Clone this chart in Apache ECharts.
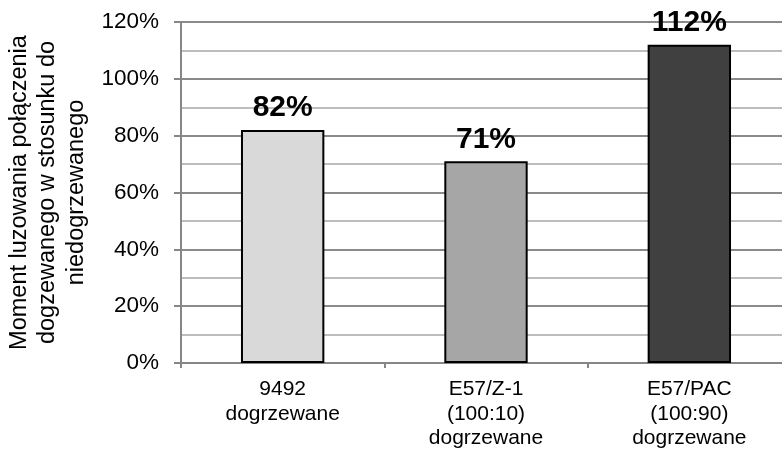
<!DOCTYPE html>
<html>
<head>
<meta charset="utf-8">
<style>
  html, body { margin: 0; padding: 0; background: #fff; }
  #chart { width: 782px; height: 450px; }
</style>
<script src="https://cdn.jsdelivr.net/npm/echarts@6/dist/echarts.min.js"></script>
</head>
<body>
<div id="chart"></div>
<script>
// Categories (x-axis) and values in percent
const categories = [
  '9492\ndogrzewane',
  'E57/Z-1\n(100:10)\ndogrzewane',
  'E57/PAC\n(100:90)\ndogrzewane'
];
const values = [82, 71, 112];
const barColors = ['#d9d9d9', '#a6a6a6', '#404040'];
const yTitle = 'Moment luzowania połączenia\ndogzewanego w stosunku do\nniedogrzewanego';

const font = '"Liberation Sans", Arial, sans-serif';
const chart = echarts.init(document.getElementById('chart'), null, { renderer: 'canvas' });

chart.setOption({
  animation: false,
  backgroundColor: '#ffffff',
  grid: {
    left: 181, right: -9, top: 22, bottom: 87,
    containLabel: false, outerBoundsMode: 'none'
  },
  xAxis: {
    type: 'category',
    data: categories,
    axisLine: { lineStyle: { color: '#868686', width: 2 } },
    axisTick: { show: true, length: 5, inside: false, lineStyle: { color: '#868686', width: 2 } },
    axisLabel: {
      color: '#000', fontFamily: font, fontSize: 21, lineHeight: 24.5, margin: 14
    }
  },
  yAxis: {
    type: 'value',
    min: 0, max: 120, interval: 20,
    name: yTitle,
    nameLocation: 'middle',
    nameRotate: 90,
    nameGap: 83,
    nameTextStyle: { color: '#000', fontFamily: font, fontSize: 23.5, lineHeight: 28.5, align: 'center' },
    axisLine: { show: true, lineStyle: { color: '#868686', width: 2 } },
    axisTick: { show: true, length: 7, lineStyle: { color: '#868686', width: 2 } },
    axisLabel: {
      color: '#000', fontFamily: font, fontSize: 22.5, margin: 22,
      formatter: v => v + '%'
    },
    splitLine: { show: true, lineStyle: { color: '#8a8a8a', width: 2 } },
    minorTick: { show: false, splitNumber: 2 },
    minorSplitLine: { show: true, lineStyle: { color: '#bdbdbd', width: 2 } }
  },
  series: [{
    type: 'bar',
    data: values.map((v, i) => ({ value: v, itemStyle: { color: barColors[i] } })),
    barWidth: '41%',
    itemStyle: { borderColor: '#000', borderWidth: 2 },
    label: {
      show: true, position: 'top', distance: 7,
      formatter: p => p.value + '%',
      color: '#000', fontFamily: font, fontSize: 30, fontWeight: 'bold'
    }
  }]
});
</script>
</body>
</html>
